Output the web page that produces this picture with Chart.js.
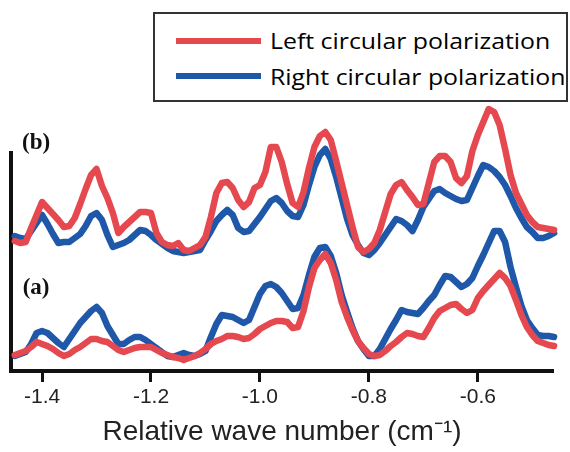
<!DOCTYPE html>
<html>
<head>
<meta charset="utf-8">
<script src="https://cdn.jsdelivr.net/npm/chart.js@4.4.1/dist/chart.umd.min.js"></script>
<style>
  body { margin: 0; background: #fff; }
  #wrap { position: relative; width: 570px; height: 452px; }
  #legend {
    position: absolute; left: 153px; top: 12px; width: 411px; height: 86px;
    border: 2px solid #333; background: #fff;
    font-family: "Open Sans", sans-serif; font-size: 22px; color: #000;
  }
  .swatch { position: absolute; left: 21px; width: 85px; height: 5.5px; }
  .label {
    position: absolute; left: 115px; line-height: 22px; white-space: nowrap;
    transform: scaleX(1.13); transform-origin: 0 50%;
  }
</style>
</head>
<body>
<div id="wrap">
  <canvas id="chart" width="570" height="452"></canvas>
  <div id="legend">
    <div class="swatch" style="top:24px; background:#e5484f"></div>
    <div class="label" style="top:15px">Left circular polarization</div>
    <div class="swatch" style="top:59px; background:#1f58a8"></div>
    <div class="label" style="top:51px">Right circular polarization</div>
  </div>
</div>
<script>
const red = '#e5484f'
const blue = '#1f58a8'

// relative wave number (cm-1), shared by all four traces
const waveNumber = [
  -1.45, -1.44, -1.43, -1.42, -1.41, -1.40, -1.39, -1.38, -1.37, -1.36,
  -1.35, -1.34, -1.33, -1.32, -1.31, -1.30, -1.29, -1.28, -1.27, -1.26,
  -1.25, -1.24, -1.23, -1.22, -1.21, -1.20, -1.19, -1.18, -1.17, -1.16,
  -1.15, -1.14, -1.13, -1.12, -1.11, -1.10, -1.09, -1.08, -1.07, -1.06,
  -1.05, -1.04, -1.03, -1.02, -1.01, -1.00, -0.99, -0.98, -0.97, -0.96,
  -0.95, -0.94, -0.93, -0.92, -0.91, -0.90, -0.89, -0.88, -0.87, -0.86,
  -0.85, -0.84, -0.83, -0.82, -0.81, -0.80, -0.79, -0.78, -0.77, -0.76,
  -0.75, -0.74, -0.73, -0.72, -0.71, -0.70, -0.69, -0.68, -0.67, -0.66,
  -0.65, -0.64, -0.63, -0.62, -0.61, -0.60, -0.59, -0.58, -0.57, -0.56,
  -0.55, -0.54, -0.53, -0.52, -0.51, -0.50, -0.49, -0.48, -0.47, -0.46
]

// panel (b), offset upwards
const leftB = [
  13.0, 12.8, 12.9, 14.3, 15.6, 16.9, 16.3, 15.7, 15.1, 14.4,
  14.5, 15.3, 16.7, 18.2, 19.6, 20.2, 18.5, 17.3, 15.8, 13.8,
  14.4, 14.9, 15.4, 15.9, 15.9, 15.8, 13.8, 12.9, 12.6, 12.5,
  12.8, 12.1, 12.0, 12.3, 12.6, 13.4, 15.4, 17.8, 18.8, 18.9,
  18.3, 17.1, 16.4, 16.9, 18.3, 18.6, 19.9, 22.4, 22.4, 20.9,
  18.7, 16.8, 16.4, 17.9, 20.3, 22.4, 23.5, 23.9, 23.1, 21.0,
  18.8, 16.6, 14.4, 12.4, 11.9, 12.2, 12.8, 14.1, 15.9, 17.7,
  18.6, 18.9, 18.1, 17.4, 16.6, 16.7, 18.8, 20.9, 21.5, 21.5,
  20.9, 19.3, 18.8, 19.5, 22.0, 23.6, 24.9, 26.2, 25.9, 24.6,
  22.2, 19.6, 17.8, 16.7, 15.6, 14.9, 14.4, 14.3, 14.2, 14.1
]
const rightB = [
  13.5, 13.3, 13.2, 14.0, 14.8, 15.6, 14.7, 13.7, 12.8, 12.9,
  12.9, 13.3, 13.7, 14.5, 15.5, 15.8, 15.1, 13.6, 12.4, 12.6,
  12.8, 13.1, 13.6, 14.1, 14.0, 13.6, 13.1, 12.7, 12.3, 12.0,
  11.9, 11.8, 11.9, 12.0, 12.1, 13.1, 14.0, 15.0, 15.6, 16.1,
  15.6, 14.3, 13.9, 14.0, 14.7, 15.4, 16.2, 17.0, 17.3, 16.8,
  16.0, 15.5, 15.4, 16.6, 18.6, 20.4, 21.6, 22.2, 21.2, 19.4,
  17.3, 15.2, 13.6, 12.6, 11.8, 11.6, 12.1, 12.8, 13.6, 14.4,
  15.2, 15.0, 14.6, 14.0, 15.1, 16.4, 17.2, 18.0, 18.2, 17.8,
  17.5, 17.2, 17.0, 17.1, 18.3, 19.5, 20.6, 20.4, 20.0, 19.4,
  18.6, 17.5, 16.3, 15.3, 14.4, 13.9, 13.3, 13.3, 13.5, 13.8
]

// panel (a)
const leftA = [
  1.6, 1.8, 2.0, 2.4, 2.9, 2.7, 2.5, 2.2, 1.8, 1.5,
  1.7, 2.1, 2.4, 2.8, 3.2, 3.2, 3.0, 2.9, 2.5, 2.1,
  1.9, 2.1, 2.3, 2.4, 2.4, 2.4, 2.1, 1.8, 1.6, 1.4,
  1.3, 1.1, 1.3, 1.5, 1.8, 2.2, 2.7, 3.0, 3.2, 3.5,
  3.5, 3.4, 3.2, 3.3, 3.7, 4.2, 4.5, 4.8, 5.0, 5.0,
  4.9, 4.3, 4.4, 6.0, 8.4, 10.3, 11.1, 11.7, 10.8, 9.1,
  6.9, 5.4, 4.1, 3.0, 2.3, 1.7, 1.5, 1.6, 2.0, 2.5,
  2.9, 3.4, 3.8, 3.7, 3.5, 3.4, 4.3, 5.3, 6.0, 6.3,
  6.6, 6.7, 6.2, 5.8, 6.1, 7.3, 8.0, 8.6, 9.2, 9.8,
  9.3, 8.5, 7.1, 5.6, 4.4, 3.6, 3.0, 2.8, 2.6, 2.5
]
const rightA = [
  1.5, 1.7, 1.9, 2.7, 3.8, 4.0, 3.8, 3.3, 2.8, 2.4,
  3.2, 4.0, 4.8, 5.4, 6.0, 6.4, 5.8, 4.5, 3.6, 2.7,
  2.7, 3.1, 3.4, 3.4, 3.1, 2.7, 2.3, 1.9, 1.5, 1.4,
  1.6, 1.8, 1.6, 1.5, 1.7, 2.0, 3.4, 4.7, 5.6, 5.5,
  5.4, 5.1, 4.8, 5.1, 6.4, 7.7, 8.5, 8.7, 8.4, 7.8,
  7.0, 6.2, 6.3, 7.6, 9.6, 11.4, 12.3, 12.4, 11.5, 9.8,
  7.6, 5.9, 4.3, 3.0, 2.2, 1.5, 1.5, 2.2, 3.2, 4.2,
  5.1, 6.1, 5.9, 5.8, 5.7, 6.3, 7.0, 7.6, 8.6, 9.5,
  9.4, 8.9, 8.4, 8.7, 9.3, 10.5, 11.6, 12.8, 14.0, 14.0,
  12.9, 10.4, 8.4, 6.5, 5.1, 4.3, 3.6, 3.5, 3.5, 3.4
]

const xTicks = [-1.4, -1.2, -1.0, -0.8, -0.6]
const panelLabels = ['(b)', '(a)']

const toPoints = values => values.map((v, i) => ({ x: waveNumber[i], y: v }))

const makeLine = (label, values, color) => ({
  label,
  data: toPoints(values),
  borderColor: color,
  backgroundColor: color,
  borderWidth: 6.5,
  pointRadius: 0,
  tension: 0,
  borderJoinStyle: 'round',
  borderCapStyle: 'round',
  clip: false
})

// panel letters sit just right of the y axis line
const panelLabelPlugin = {
  id: 'panelLabels',
  afterDatasetsDraw (chart) {
    const { ctx, scales: { x, y } } = chart
    const anchors = [22.8, 8.3]
    ctx.save()
    ctx.font = 'bold 23px "Liberation Serif", "Times New Roman", serif'
    ctx.fillStyle = '#111'
    ctx.textAlign = 'center'
    ctx.textBaseline = 'middle'
    panelLabels.forEach((text, i) => {
      ctx.fillText(text, x.getPixelForValue(-1.411), y.getPixelForValue(anchors[i]))
    })
    ctx.restore()
  }
}

const tickFont = { family: '"Liberation Sans", Arial, sans-serif', size: 21 }

new Chart(document.getElementById('chart'), {
  type: 'line',
  data: {
    datasets: [
      makeLine('Left circular polarization (b)', leftB, red),
      makeLine('Left circular polarization (a)', leftA, red),
      makeLine('Right circular polarization (b)', rightB, blue),
      makeLine('Right circular polarization (a)', rightA, blue)
    ]
  },
  options: {
    responsive: false,
    animation: false,
    layout: { padding: { top: 153, left: 11, right: 17, bottom: 0 } },
    plugins: {
      legend: { display: false },
      tooltip: { enabled: false }
    },
    scales: {
      x: {
        type: 'linear',
        min: -1.457,
        max: -0.462,
        afterBuildTicks: scale => { scale.ticks = xTicks.map(v => ({ value: v })) },
        afterFit: scale => { scale.height = 81 },
        grid: {
          display: true,
          drawOnChartArea: false,
          drawTicks: true,
          tickLength: 11,
          tickWidth: 3,
          tickColor: '#111'
        },
        border: { display: true, color: '#111', width: 4 },
        ticks: {
          color: '#222',
          font: tickFont,
          padding: 3,
          maxRotation: 0,
          autoSkip: false,
          callback: v => Number(v).toFixed(1)
        },
        title: {
          display: true,
          text: 'Relative wave number (cm⁻¹)',
          color: '#222',
          font: { family: '"Liberation Sans", Arial, sans-serif', size: 28 },
          padding: { top: 0, bottom: 3 }
        }
      },
      y: {
        min: 0,
        max: 21.8,
        afterFit: scale => { scale.width = 0 },
        grid: { display: false },
        border: { display: true, color: '#111', width: 4 },
        ticks: { display: false }
      }
    }
  },
  plugins: [panelLabelPlugin]
})
</script>
</body>
</html>
